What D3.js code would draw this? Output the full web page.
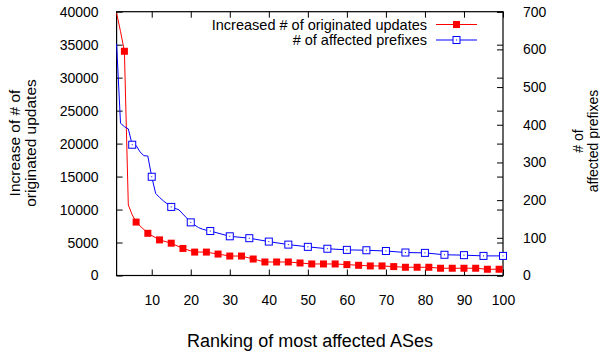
<!DOCTYPE html>
<html>
<head>
<meta charset="utf-8">
<script src="https://cdn.jsdelivr.net/npm/d3@7"></script>
<style>
  body { margin: 0; background: #fff; }
  svg text { font-family: "Liberation Sans", Arial, sans-serif; fill: #000; }
</style>
</head>
<body>
<div id="chart"></div>
<script>
// Data
const updRanks  = [1, 2, 3, 4, 5, 6, 9, 12, 15, 18, 21, 24, 27, 30, 33, 36, 39, 42, 45, 48, 51, 54, 57, 60, 63, 66, 69, 72, 75, 78, 81, 84, 87, 90, 93, 96, 99, 100];
const updValues = [39800, 37000, 34000, 10700, 9200, 8100, 6400, 5400, 4900, 4100, 3550, 3550, 3250, 2950, 2950, 2500, 2050, 2050, 2050, 1900, 1750, 1750, 1750, 1650, 1550, 1450, 1450, 1350, 1250, 1250, 1250, 1100, 1100, 1100, 1100, 950, 950, 900];

const pfxRanks  = [1, 2, 3, 4, 5, 6, 7, 8, 9, 10, 11, 12, 13, 14, 15, 16, 17, 18, 19, 20, 21, 22, 23, 24, 25, 30, 35, 40, 45, 50, 55, 60, 65, 70, 75, 80, 85, 90, 95, 100];
const pfxValues = [615, 404, 395, 389, 347, 345, 328, 318, 317, 262, 218, 207, 198, 190, 182, 178, 174, 163, 152, 141, 134, 127, 123, 120, 118, 104, 99, 90, 82, 76, 71, 68, 67, 65, 61, 60, 55, 54, 52, 52];

const xTicks  = [10, 20, 30, 40, 50, 60, 70, 80, 90, 100];
const y1Ticks = [0, 5000, 10000, 15000, 20000, 25000, 30000, 35000, 40000];
const y2Ticks = [0, 100, 200, 300, 400, 500, 600, 700];

const seriesNames = ['Increased # of originated updates', '# of affected prefixes'];

const W = 600, H = 358;
const plot = { left: 116.6, right: 503, top: 11.7, bottom: 275.5 };

const svg = d3.select('#chart').append('svg')
    .attr('width', W)
    .attr('height', H);

const x = d3.scaleLinear().domain([1, 100]).range([plot.left, plot.right]);
const y1 = d3.scaleLinear().domain([0, 40000]).range([plot.bottom, plot.top]);
const y2 = d3.scaleLinear().domain([0, 700]).range([plot.bottom, plot.top]);

const tickLen = 6;

// Bottom axis with inward ticks
svg.append('g')
    .attr('transform', `translate(0,${plot.bottom})`)
    .call(d3.axisBottom(x).tickValues(xTicks).tickSizeInner(-tickLen).tickSizeOuter(0).tickPadding(20))
    .call(g => g.select('.domain').remove())
    .selectAll('text').style('font-size', '14px');

// Top mirror ticks
svg.append('g')
    .attr('transform', `translate(0,${plot.top})`)
    .call(d3.axisTop(x).tickValues(xTicks).tickSizeInner(-tickLen).tickSizeOuter(0).tickFormat(''))
    .call(g => g.select('.domain').remove());

// Left axis
svg.append('g')
    .attr('transform', `translate(${plot.left},0)`)
    .call(d3.axisLeft(y1).tickValues(y1Ticks).tickFormat(d3.format('d')).tickSizeInner(-tickLen).tickSizeOuter(0).tickPadding(18))
    .call(g => g.select('.domain').remove())
    .selectAll('text').style('font-size', '14px');

// Right mirror of left ticks
svg.append('g')
    .attr('transform', `translate(${plot.right},0)`)
    .call(d3.axisRight(y1).tickValues(y1Ticks).tickSizeInner(-tickLen).tickSizeOuter(0).tickFormat(''))
    .call(g => g.select('.domain').remove());

// Right axis (y2)
svg.append('g')
    .attr('transform', `translate(${plot.right},0)`)
    .call(d3.axisRight(y2).tickValues(y2Ticks).tickFormat(d3.format('d')).tickSizeInner(-tickLen).tickSizeOuter(0).tickPadding(20))
    .call(g => g.select('.domain').remove())
    .selectAll('text').style('font-size', '14px');

svg.selectAll('.tick line').attr('stroke', '#000');

// Frame
svg.append('rect')
    .attr('x', plot.left)
    .attr('y', plot.top)
    .attr('width', plot.right - plot.left)
    .attr('height', plot.bottom - plot.top)
    .attr('fill', 'none')
    .attr('stroke', '#000')
    .attr('stroke-width', 1.2);

// Lines
const updData = updRanks.map((r, i) => ({ r, v: updValues[i] }));
const pfxData = pfxRanks.map((r, i) => ({ r, v: pfxValues[i] }));

svg.append('path')
    .datum(updData)
    .attr('fill', 'none')
    .attr('stroke', '#ff0000')
    .attr('stroke-width', 1)
    .attr('d', d3.line().x(d => x(d.r)).y(d => y1(d.v)));

svg.append('path')
    .datum(pfxData)
    .attr('fill', 'none')
    .attr('stroke', '#0000ff')
    .attr('stroke-width', 1)
    .attr('d', d3.line().x(d => x(d.r)).y(d => y2(d.v)));

// Markers: filled squares every 3rd rank, open squares every 5th rank
const ms = 7;
svg.append('g').selectAll('rect')
    .data(updData.filter(d => d.r % 3 === 0))
    .enter().append('rect')
    .attr('x', d => x(d.r) - ms / 2)
    .attr('y', d => y1(d.v) - ms / 2)
    .attr('width', ms)
    .attr('height', ms)
    .attr('fill', '#ff0000');

const openSquare = (g, cx, cy) => {
    g.append('rect')
        .attr('x', cx - ms / 2)
        .attr('y', cy - ms / 2)
        .attr('width', ms)
        .attr('height', ms)
        .attr('fill', '#fff')
        .attr('stroke', '#0000ff')
        .attr('stroke-width', 1);
    g.append('rect')
        .attr('x', cx - 0.5)
        .attr('y', cy - 0.5)
        .attr('width', 1)
        .attr('height', 1)
        .attr('fill', '#0000ff');
};

const pfxMarks = svg.append('g');
pfxData.filter(d => d.r % 5 === 0).forEach(d => openSquare(pfxMarks, x(d.r), y2(d.v)));

// Legend
const legend = svg.append('g');
[0, 1].forEach(i => {
    const ly = 24.5 + i * 15.5;
    legend.append('text')
        .attr('x', 427)
        .attr('y', ly)
        .attr('dy', '0.35em')
        .attr('text-anchor', 'end')
        .style('font-size', '14.5px')
        .text(seriesNames[i]);
    legend.append('line')
        .attr('x1', 436).attr('x2', 477)
        .attr('y1', ly).attr('y2', ly)
        .attr('stroke', i === 0 ? '#ff0000' : '#0000ff');
    if (i === 0) {
        legend.append('rect')
            .attr('x', 456.5 - ms / 2).attr('y', ly - ms / 2)
            .attr('width', ms).attr('height', ms)
            .attr('fill', '#ff0000');
    } else {
        openSquare(legend, 456.5, ly);
    }
});

// Axis titles
svg.append('text')
    .attr('x', 310)
    .attr('y', 341)
    .attr('dy', '0.35em')
    .attr('text-anchor', 'middle')
    .style('font-size', '18px')
    .text('Ranking of most affected ASes');

const leftTitle = svg.append('text')
    .attr('transform', 'translate(23,143) rotate(-90)')
    .attr('text-anchor', 'middle')
    .style('font-size', '15.5px');
leftTitle.append('tspan').attr('x', 0).attr('dy', '-0.2em').text('Increase of # of');
leftTitle.append('tspan').attr('x', 0).attr('dy', '1.05em').text('originated updates');

const rightTitle = svg.append('text')
    .attr('transform', 'translate(586,141) rotate(-90)')
    .attr('text-anchor', 'middle')
    .style('font-size', '14px');
rightTitle.append('tspan').attr('x', 0).attr('dy', '-0.25em').text('# of');
rightTitle.append('tspan').attr('x', 0).attr('dy', '1.1em').text('affected prefixes');
</script>
</body>
</html>
